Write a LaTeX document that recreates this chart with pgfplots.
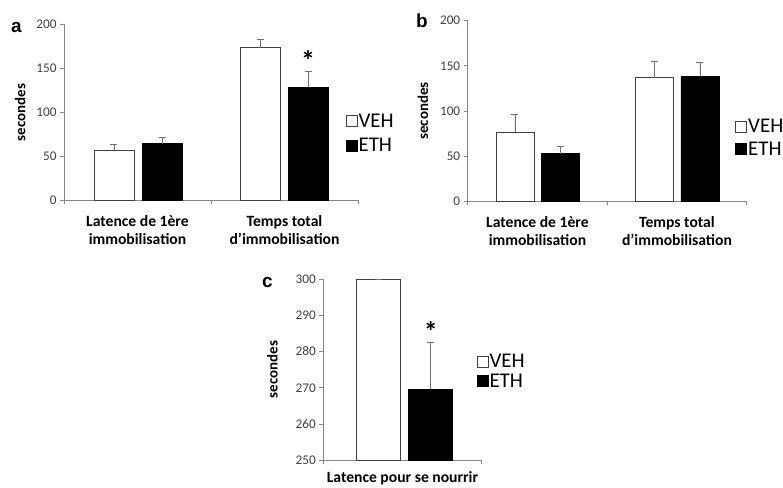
\documentclass[border=0pt]{standalone}
\usepackage{fontspec}
\setmainfont{Carlito}
\newfontfamily\letterfont{Liberation Sans}
\usepackage{pgfplots}
\pgfplotsset{compat=1.18}
\definecolor{axgray}{HTML}{868686}
\definecolor{tickgray}{HTML}{404040}
\definecolor{errgray}{HTML}{6E6E6E}
\pgfplotsset{
  myax/.style={
    scale only axis,
    axis lines*=left,
    axis line style={draw=axgray, line width=0.9pt},
    ybar, bar shift=0pt,
    tick style={draw=axgray, line width=0.9pt},
    tick align=outside,
    major tick length=4bp,
    xticklabels={},
    yticklabel style={font=\fontsize{13.3}{13.3}\selectfont, text=tickgray},
    /pgf/number format/assume math mode=true,
    ylabel={secondes},
    ylabel style={font=\fontsize{15}{15}\selectfont\bfseries},
    enlargelimits=false,
    clip=false,
    area legend,
    legend image code/.code={\draw[#1, line width=0.8pt] (0bp,-5.5bp) rectangle (11bp,5.5bp);},
    legend style={draw=none, fill=none, font=\fontsize{21}{21}\selectfont, anchor=west, inner sep=0pt,
      nodes={inner sep=1.2bp}},
    legend cell align=left,
    error bars/y dir=plus,
    error bars/y explicit,
    error bars/error bar style={errgray, line width=0.9pt},
    error bars/error mark options={errgray, line width=0.9pt, mark size=3.5bp, rotate=90},
    extra x tick style={major tick length=0pt,
      tick label style={align=center, font=\fontsize{15.7}{17.5}\selectfont\bfseries, text=black, yshift=-12bp}},
  },
  veh/.style={draw=tickgray, fill=white, line width=0.8pt},
  eth/.style={draw=black, fill=black, line width=0.8pt},
}
\begin{document}
\begin{tikzpicture}
\useasboundingbox (0,0) rectangle (783bp,488bp);
% panel a
\begin{axis}[myax, at={(64bp,287.7bp)}, anchor=south west,
  width=294bp, height=175.8bp,
  xmin=0, xmax=2, ymin=0, ymax=200, ytick={0,50,...,200},
  xtick={0,1,2}, bar width=40bp, ylabel shift=4bp,
  extra x ticks={0.5,1.5},
  extra x tick labels={Latence de 1ère\\immobilisation, Temps total\\d’immobilisation},
  legend style={at={(rel axis cs:0.957,0.38)}, row sep=7bp}]
\addplot[veh] coordinates {(0.340,57.2) +- (0,6.8) (1.337,173.5) +- (0,9.1)};
\addplot[eth] coordinates {(0.667,64.4) +- (0,6.8) (1.662,128.4) +- (0,18.2)};
\legend{VEH, ETH}
\end{axis}
% panel b
\begin{axis}[myax, at={(467.7bp,286.7bp)}, anchor=south west,
  width=279bp, height=180.6bp,
  xmin=0, xmax=2, ymin=0, ymax=200, ytick={0,50,...,200},
  xtick={0,1,2}, bar width=38bp, ylabel shift=5bp,
  extra x ticks={0.5,1.5},
  extra x tick labels={Latence de 1ère\\immobilisation, Temps total\\d’immobilisation},
  legend style={at={(rel axis cs:0.958,0.351)}, row sep=5bp}]
\addplot[veh] coordinates {(0.339,76.4) +- (0,19.9) (1.339,136.9) +- (0,17.7)};
\addplot[eth] coordinates {(0.667,52.8) +- (0,7.7) (1.665,138.4) +- (0,15.5)};
\legend{VEH, ETH}
\end{axis}
% panel c
\begin{axis}[myax, at={(323.3bp,27.7bp)}, anchor=south west,
  width=158.4bp, height=181.3bp,
  xmin=0, xmax=1, ymin=250, ymax=300, ytick={250,260,...,300},
  xtick={0,1}, bar width=43.5bp, clip=true, clip mode=individual, ylabel shift=11bp,
  extra x ticks={0.5},
  extra x tick labels={Latence pour se nourrir},
  extra x tick style={tick label style={yshift=4bp}},
  legend style={at={(rel axis cs:0.966,0.49)}, row sep=2bp}]
\addplot[veh] coordinates {(0.347,300) +- (0,0)};
\addplot[eth] coordinates {(0.676,269.6) +- (0,12.8)};
\legend{VEH, ETH}
\end{axis}
% panel letters and significance marks
\node[anchor=base west, inner sep=0pt, font=\letterfont\bfseries\fontsize{19}{19}\selectfont] at (11bp,455bp) {a};
\node[anchor=base west, inner sep=0pt, font=\letterfont\bfseries\fontsize{19}{19}\selectfont] at (416bp,460bp) {b};
\node[anchor=base west, inner sep=0pt, font=\letterfont\bfseries\fontsize{19}{19}\selectfont] at (262bp,200bp) {c};
\node[anchor=north, inner sep=0pt, font=\bfseries\fontsize{28}{28}\selectfont] at (308bp,438bp) {*};
\node[anchor=north, inner sep=0pt, font=\bfseries\fontsize{28}{28}\selectfont] at (430.7bp,166.3bp) {*};
\end{tikzpicture}
\end{document}
